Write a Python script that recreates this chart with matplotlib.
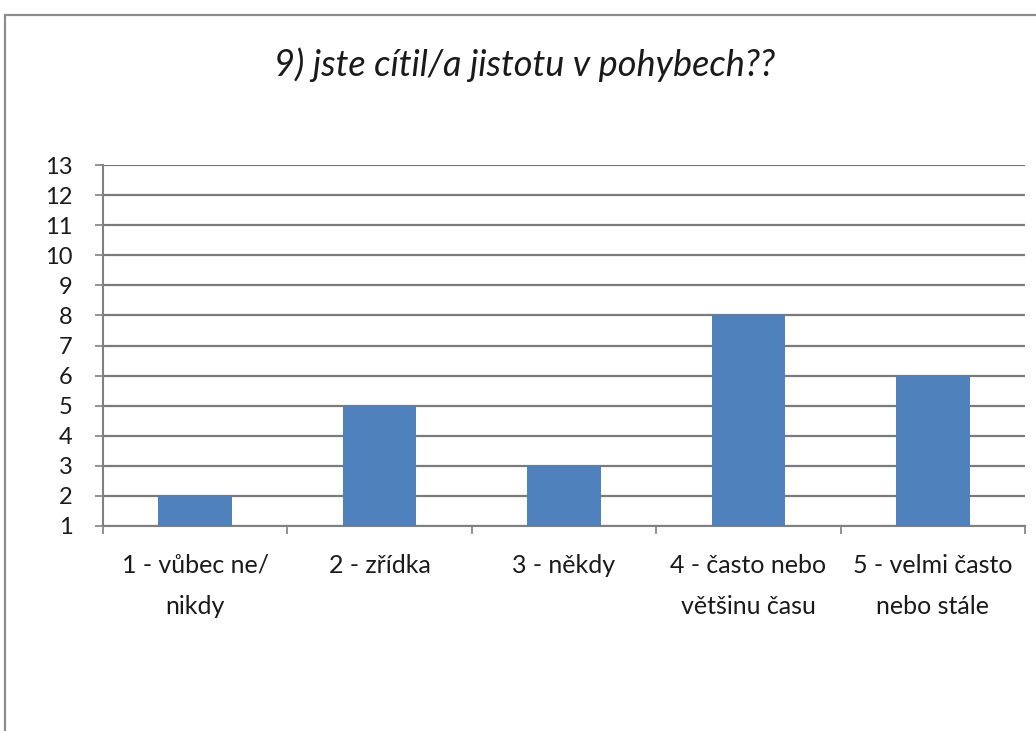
import matplotlib
matplotlib.use("Agg")
import matplotlib.pyplot as plt
from matplotlib.patches import Rectangle
import numpy as np

title = "9) jste cítil/a jistotu v pohybech??"
categories = ["1 - vůbec ne/\nnikdy", "2 - zřídka", "3 - někdy",
              "4 - často nebo\nvětšinu času", "5 - velmi často\nnebo stále"]
values = [2, 5, 3, 8, 6]
y_ticks = list(range(1, 14))

plt.rcParams['font.family'] = ['Lato', 'DejaVu Sans']

fig = plt.figure(figsize=(10.36, 7.31), dpi=100)
fig.patch.set_facecolor("white")

# outer chart frame (runs off the right and bottom edges)
fig.patches.append(Rectangle((5 / 1036, -0.05), 1.1, 1 - 15 / 731 + 0.05,
                             transform=fig.transFigure, fill=False,
                             edgecolor="#8c8c8c", linewidth=1.6, zorder=0))

ax = fig.add_axes([103 / 1036, 1 - 526 / 731, (1025 - 103) / 1036, (526 - 165) / 731])

x = np.arange(len(values))
ax.bar(x, values, width=0.4, color="#4F81BD", zorder=3)

ax.set_xlim(-0.5, len(values) - 0.5)
ax.set_ylim(1, 13)
ax.set_yticks(y_ticks)
ax.set_yticklabels([str(t) for t in y_ticks], fontsize=17, color="#1a1a1a")
ax.yaxis.grid(True, color="#7a7a7a", linewidth=1.6, zorder=1)
ax.set_axisbelow(True)

ax.set_xticks(x)
ax.set_xticklabels(categories, fontsize=18, color="#1a1a1a", linespacing=1.95)
ax.set_xticks(np.arange(-0.5, len(values)), minor=True)
ax.tick_params(axis="x", which="major", length=0, pad=20)
ax.tick_params(axis="x", which="minor", length=6, color="#808080", width=1.2)
ax.tick_params(axis="y", length=6, color="#808080", width=1.2, pad=16)

for side in ("top", "right"):
    ax.spines[side].set_visible(False)
ax.spines["left"].set_color("#808080")
ax.spines["left"].set_linewidth(1.5)
ax.spines["bottom"].set_color("#808080")
ax.spines["bottom"].set_linewidth(1.5)

fig.text(525 / 1036, 1 - 65 / 731, title, ha="center", va="center",
         fontsize=26, style="italic", color="#1a1a1a")

fig.savefig("out.png", dpi=100, facecolor="white")
